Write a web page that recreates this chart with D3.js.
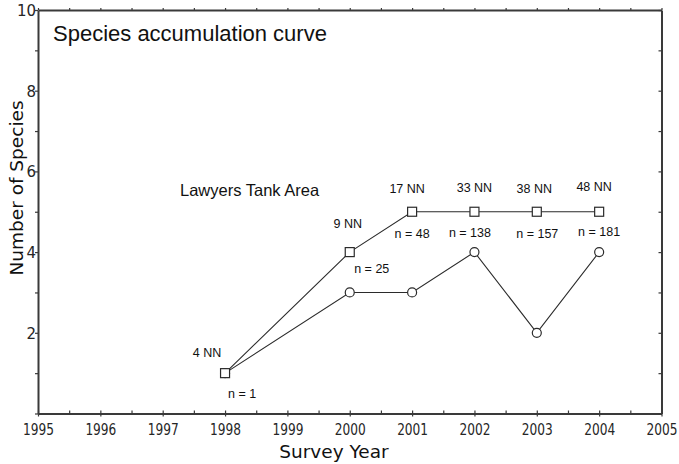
<!DOCTYPE html>
<html>
<head>
<meta charset="utf-8">
<script src="https://cdn.jsdelivr.net/npm/d3@7/dist/d3.min.js"></script>
<style>
  html, body { margin: 0; padding: 0; background: #fff; }
  svg { display: block; }
</style>
</head>
<body>
<svg id="chart" width="679" height="464"></svg>
<script>
// Survey years and the two species series
const years = [1998, 2000, 2001, 2002, 2003, 2004];
const cumulativeSpecies = [1, 4, 5, 5, 5, 5];   // square markers
const speciesPerYear = [1, 3, 3, 4, 2, 4];      // circle markers

// Annotation texts per survey year
const nnLabels = ["4 NN", "9 NN", "17 NN", "33 NN", "38 NN", "48 NN"];
const sampleLabels = ["n = 1", "n = 25", "n = 48", "n = 138", "n = 157", "n = 181"];

// Axis ticks
const xDomain = [1995, 2005];
const yDomain = [0, 10];
const xTickValues = d3.range(0, 21).map(i => 1995 + i * 0.5);
const xLabelYears = d3.range(1995, 2006);
const yTickValues = d3.range(0, 11);
const yLabelValues = [2, 4, 6, 8, 10];

// Placement nudges for annotation text, relative to the square marker
const nnNudge = [[-18, -16], [-2, -24], [-5, -19], [0, -19.5], [-2.5, -18.5], [-5, -20.5]];
const sampleNudge = [[17, 25], [22, 21], [0, 26], [-4.5, 25.5], [0.5, 26.5], [0, 24]];

const svg = d3.select("#chart");
const plotLeft = 38, plotRight = 661.5, plotTop = 10, plotBottom = 413.5;

const x = d3.scaleLinear().domain(xDomain).range([plotLeft, plotRight]);
const y = d3.scaleLinear().domain(yDomain).range([plotBottom, plotTop]);

const axisColor = "#3a3a3a";
const tickFont = "'DejaVu Sans', Verdana, sans-serif";

function styleAxis(g) {
  g.select(".domain").attr("stroke", axisColor).attr("stroke-width", 2);
  g.selectAll(".tick line").attr("stroke", axisColor).attr("stroke-width", 1.2);
}

// Bottom axis: half-year ticks pointing inward, year ticks crossing the line
svg.append("g")
  .attr("transform", `translate(0,${plotBottom})`)
  .call(d3.axisBottom(x).tickValues(xTickValues).tickSizeInner(-3).tickSizeOuter(0).tickFormat(""))
  .call(styleAxis);
svg.append("g")
  .attr("transform", `translate(0,${plotBottom})`)
  .call(d3.axisBottom(x).tickValues(xLabelYears).tickSizeInner(3).tickSizeOuter(0).tickFormat(d => d))
  .call(g => g.select(".domain").remove())
  .call(g => g.selectAll(".tick line").attr("stroke", axisColor).attr("stroke-width", 1.2))
  .call(g => g.selectAll(".tick text")
    .attr("y", 21.5).attr("dy", null)
    .attr("transform", "scale(0.76,1)")
    .attr("fill", "#262626")
    .style("font-family", tickFont).style("font-size", "16px"));

// Top axis: ticks pointing outward
svg.append("g")
  .attr("transform", `translate(0,${plotTop})`)
  .call(d3.axisTop(x).tickValues(xTickValues).tickSizeInner(2).tickSizeOuter(0).tickFormat(""))
  .call(styleAxis);

// Left axis with even-value labels
svg.append("g")
  .attr("transform", `translate(${plotLeft},0)`)
  .call(d3.axisLeft(y).tickValues(yTickValues).tickSizeInner(3).tickSizeOuter(0)
    .tickFormat(d => yLabelValues.includes(d) ? d : ""))
  .call(styleAxis)
  .call(g => g.selectAll(".tick text")
    .attr("x", -2).attr("dy", "0.36em")
    .attr("fill", "#262626")
    .style("font-family", tickFont).style("font-size", "15px"));

// Right axis: ticks pointing inward
svg.append("g")
  .attr("transform", `translate(${plotRight},0)`)
  .call(d3.axisRight(y).tickValues(yTickValues).tickSizeInner(-3).tickSizeOuter(0).tickFormat(""))
  .call(styleAxis);

// Series lines
const rows = years.map((yr, i) => ({ yr, cum: cumulativeSpecies[i], per: speciesPerYear[i] }));
const lineColor = "#2b2b2b";

svg.append("path")
  .datum(rows)
  .attr("fill", "none").attr("stroke", lineColor).attr("stroke-width", 1.1)
  .attr("d", d3.line().x(d => x(d.yr)).y(d => y(d.per)));

svg.append("path")
  .datum(rows)
  .attr("fill", "none").attr("stroke", lineColor).attr("stroke-width", 1.1)
  .attr("d", d3.line().x(d => x(d.yr)).y(d => y(d.cum)));

// Circle markers (species recorded per survey year)
svg.append("g").selectAll("circle")
  .data(rows)
  .join("circle")
  .attr("cx", d => x(d.yr)).attr("cy", d => y(d.per)).attr("r", 4.5)
  .attr("fill", "#fff").attr("stroke", lineColor).attr("stroke-width", 1.2);

// Square markers (cumulative species)
const sq = 9;
svg.append("g").selectAll("rect")
  .data(rows)
  .join("rect")
  .attr("x", d => x(d.yr) - sq / 2).attr("y", d => y(d.cum) - sq / 2)
  .attr("width", sq).attr("height", sq)
  .attr("fill", "#fff").attr("stroke", lineColor).attr("stroke-width", 1.2);

// Annotations above and below the square markers
const annFont = "'Liberation Sans', Arial, Helvetica, sans-serif";
svg.append("g").selectAll("text")
  .data(rows)
  .join("text")
  .attr("x", (d, i) => x(d.yr) + nnNudge[i][0])
  .attr("y", (d, i) => y(d.cum) + nnNudge[i][1])
  .attr("text-anchor", "middle")
  .style("font-family", annFont).style("font-size", "12.5px").attr("fill", "#111")
  .text((d, i) => nnLabels[i]);

svg.append("g").selectAll("text")
  .data(rows)
  .join("text")
  .attr("x", (d, i) => x(d.yr) + sampleNudge[i][0])
  .attr("y", (d, i) => y(d.cum) + sampleNudge[i][1])
  .attr("text-anchor", "middle")
  .style("font-family", annFont).style("font-size", "12.5px").attr("fill", "#111")
  .text((d, i) => sampleLabels[i]);

// Titles
svg.append("text")
  .attr("x", 53).attr("y", 41)
  .style("font-family", annFont).style("font-size", "22px").attr("fill", "#111")
  .text("Species accumulation curve");

svg.append("text")
  .attr("x", 180).attr("y", 196)
  .style("font-family", annFont).style("font-size", "16.5px").attr("fill", "#111")
  .text("Lawyers Tank Area");

const axisTitleFont = "'DejaVu Sans', sans-serif";
svg.append("text")
  .attr("x", 334).attr("y", 457.5)
  .attr("text-anchor", "middle")
  .style("font-family", axisTitleFont).style("font-size", "18.5px").attr("fill", "#111")
  .text("Survey Year");

svg.append("text")
  .attr("transform", "translate(23,188) rotate(-90)")
  .attr("text-anchor", "middle")
  .style("font-family", axisTitleFont).style("font-size", "18.5px").attr("fill", "#111")
  .text("Number of Species");
</script>
</body>
</html>
